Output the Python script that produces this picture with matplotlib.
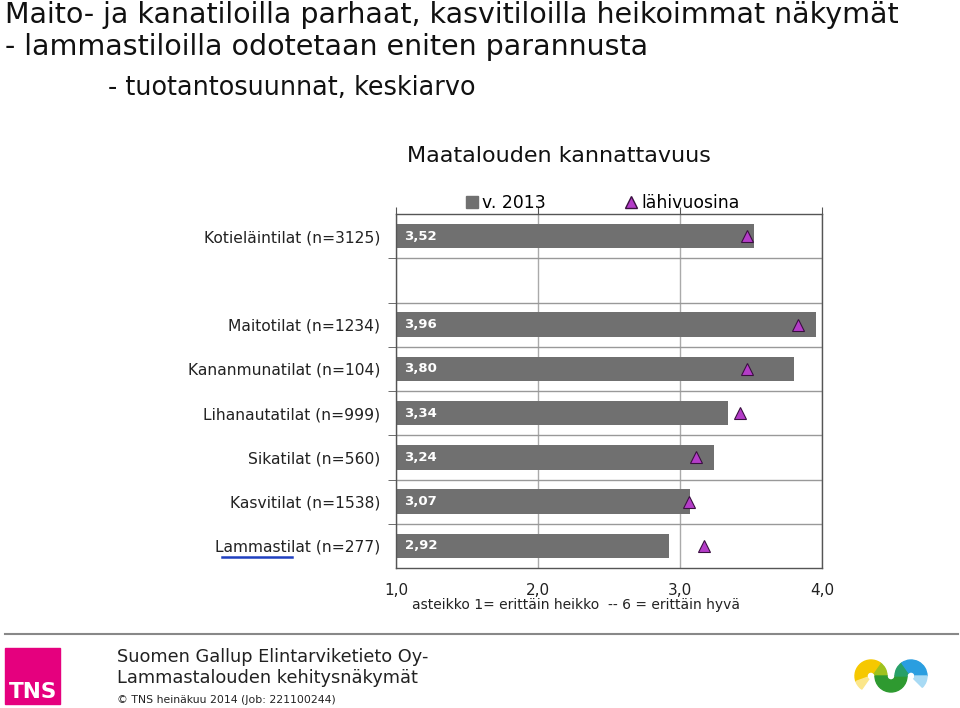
import matplotlib.pyplot as plt
from matplotlib.patches import Patch, Rectangle, Wedge
from matplotlib.lines import Line2D

# data, top to bottom (None = empty row)
categories = ["Kotieläintilat (n=3125)", "", "Maitotilat (n=1234)", "Kananmunatilat (n=104)",
              "Lihanautatilat (n=999)", "Sikatilat (n=560)", "Kasvitilat (n=1538)", "Lammastilat (n=277)"]
v2013 = [3.52, None, 3.96, 3.80, 3.34, 3.24, 3.07, 2.92]
lahivuosina = [3.47, None, 3.83, 3.47, 3.42, 3.11, 3.06, 3.17]
xticks = [1.0, 2.0, 3.0, 4.0]

bar_color = "#707070"
tri_color = "#B43CC8"

fig = plt.figure(figsize=(9.6, 7.08), dpi=100)

# headline
fig.text(0.005, 1 - 15 / 708, "Maito- ja kanatiloilla parhaat, kasvitiloilla heikoimmat näkymät",
         fontsize=20.5, color="#111111", va="center", ha="left")
fig.text(0.005, 1 - 47 / 708, "- lammastiloilla odotetaan eniten parannusta",
         fontsize=20.5, color="#111111", va="center", ha="left")
fig.text(108 / 960, 1 - 88 / 708, "- tuotantosuunnat, keskiarvo",
         fontsize=18.4, color="#111111", va="center", ha="left")

ax = fig.add_axes([0.4125, 0.1977, 0.44375, 0.5])
n = len(categories)
ys = list(range(n))
for y, v, t in zip(ys, v2013, lahivuosina):
    if v is None:
        continue
    ax.barh(y, v - 1.0, left=1.0, height=0.55, color=bar_color, zorder=2)
    ax.text(1.06, y, f"{v:.2f}".replace(".", ","), color="white", fontsize=9.5,
            fontweight="bold", va="center", ha="left", zorder=4)
    ax.plot(t, y, marker="^", markersize=9, color=tri_color,
            markeredgecolor="#3A1040", markeredgewidth=0.8, zorder=3)

ax.set_xlim(1.0, 4.0)
ax.set_ylim(n - 0.5, -0.5)
ax.set_xticks(xticks)
ax.set_xticklabels([f"{x:.1f}".replace(".", ",") for x in xticks], fontsize=11, color="#222222")
ax.set_yticks(ys)
ax.set_yticklabels(categories, fontsize=11.2, color="#222222")
ax.set_yticks([y - 0.5 for y in range(1, n)], minor=True)
ax.tick_params(axis="y", which="major", length=0, pad=11.5)
ax.tick_params(axis="y", which="minor", length=6, direction="out", color="#555555")
ax.tick_params(axis="x", which="major", bottom=False, top=True, labelbottom=True,
               labeltop=False, length=5, direction="out", color="#555555", pad=6)
ax.grid(axis="x", which="major", color="#AAAAAA", linewidth=1, zorder=0)
ax.grid(axis="y", which="minor", color="#999999", linewidth=1, zorder=0)
ax.set_axisbelow(True)
for s in ax.spines.values():
    s.set_color("#555555")
    s.set_linewidth(1)

ax.text(2.27, -0.105, "asteikko 1= erittäin heikko  -- 6 = erittäin hyvä",
        transform=ax.get_xaxis_transform(), fontsize=10, ha="center", va="center", color="#222222")

handles = [Patch(color=bar_color), Line2D([], [], marker="^", ls="none", color=tri_color,
                                          markeredgecolor="#3A1040", markersize=8)]
ax.legend(handles, ["v. 2013", "lähivuosina"], ncol=2, frameon=False, fontsize=12.4,
          loc="center", bbox_to_anchor=(0.485, 1.031), handlelength=0.7,
          handletextpad=0.25, columnspacing=4.6, borderaxespad=0)

fig.text(407 / 960, 1 - 156 / 708, "Maatalouden kannattavuus", fontsize=16, color="#111111",
         va="center", ha="left")

# blue underline under label
fig.add_artist(Line2D([222 / 960, 292 / 960], [1 - 557 / 708, 1 - 557 / 708],
                      color="#2040C0", linewidth=1.8))

# footer
fig.add_artist(Line2D([5 / 960, 958 / 960], [1 - 634 / 708, 1 - 634 / 708],
                      color="#888888", linewidth=1.5))
fig.add_artist(Rectangle((5 / 960, 1 - 704 / 708), 55 / 960, 56 / 708,
                         color="#E5007E", transform=fig.transFigure))
fig.text(9 / 960, 1 - 692 / 708, "TNS", color="white", fontsize=15.5, fontweight="bold",
         va="center", ha="left")
fig.text(117 / 960, 1 - 657 / 708, "Suomen Gallup Elintarviketieto Oy-", fontsize=12.8,
         color="#222222", va="center", ha="left")
fig.text(117 / 960, 1 - 678 / 708, "Lammastalouden kehitysnäkymät", fontsize=12.8,
         color="#222222", va="center", ha="left")
fig.text(117 / 960, 1 - 700 / 708, "© TNS heinäkuu 2014 (Job: 221100244)", fontsize=7.8,
         color="#222222", va="center", ha="left")

# coloured logo in the corner (rough shape), figure pixel coords, y up
lax = fig.add_axes([850 / 960, 8 / 708, 85 / 960, 50 / 708])
lax.set_xlim(850, 935)
lax.set_ylim(8, 58)
lax.set_aspect("equal")
lax.axis("off")
cy = 32
lax.add_patch(Wedge((871, cy), 16, 0, 55, width=12, color="#9EC21E"))
lax.add_patch(Wedge((871, cy), 16, 55, 200, width=12, color="#F6C800"))
lax.add_patch(Wedge((871, cy), 16, 200, 235, width=12, color="#FBE68A"))
lax.add_patch(Wedge((891, cy), 16, 180, 360, width=12, color="#2E9A30"))
lax.add_patch(Wedge((911, cy), 16, 125, 180, width=12, color="#28A068"))
lax.add_patch(Wedge((911, cy), 16, 0, 125, width=12, color="#2A9EE0"))
lax.add_patch(Wedge((911, cy), 16, -45, 0, width=12, color="#A8DAF4"))

fig.savefig("out.png", dpi=100, facecolor="white")
